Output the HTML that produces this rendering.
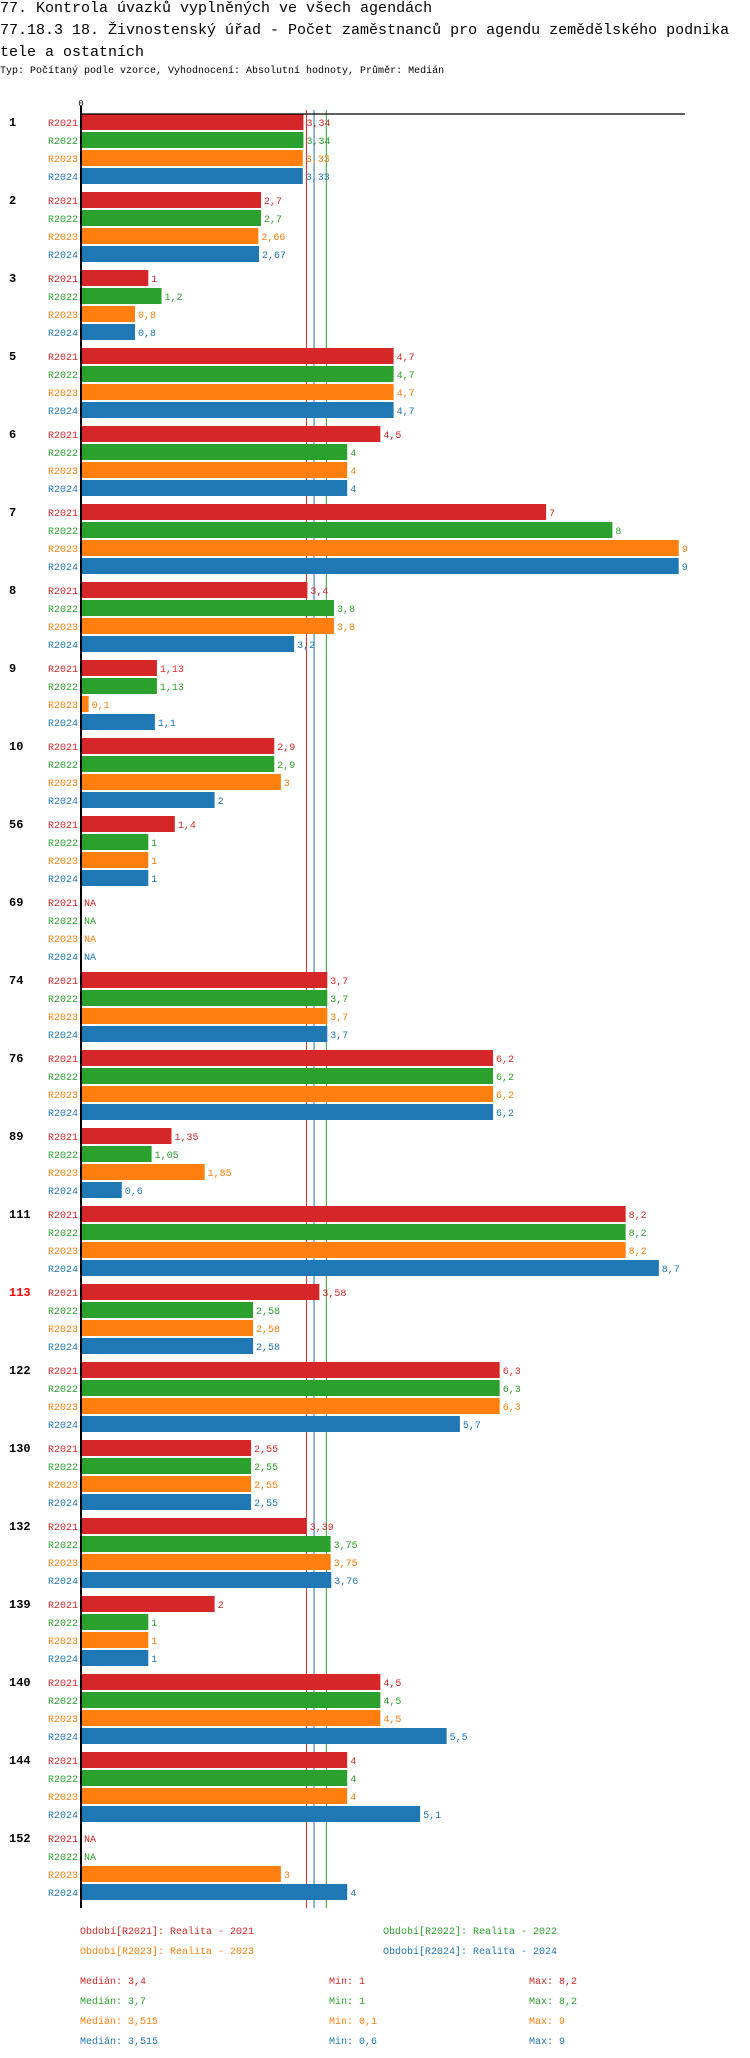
<!DOCTYPE html>
<html><head><meta charset="utf-8">
<style>
body{margin:0;background:#fff;width:750px;height:2058px;overflow:hidden;font-family:"Liberation Mono",monospace;}
.t{position:absolute;left:0;font-size:15px;color:#000;white-space:nowrap;}
.s{position:absolute;left:0;top:66px;font-size:10px;white-space:nowrap;}
svg{position:absolute;left:0;top:0;}
svg text{font-family:"Liberation Mono",monospace;}
</style></head><body>
<div class="t" style="top:0px">77. Kontrola úvazků vyplněných ve všech agendách</div>
<div class="t" style="top:22px">77.18.3 18. Živnostenský úřad - Počet zaměstnanců pro agendu zemědělského podnika</div>
<div class="t" style="top:44px">tele a ostatních</div>
<div class="s">Typ: Počítaný podle vzorce, Vyhodnocení: Absolutní hodnoty, Průměr: Medián</div>
<svg id="chart" width="750" height="2058"></svg>
<script>
const groups=["1","2","3","5","6","7","8","9","10","56","69","74","76","89","111","113","122","130","132","139","140","144","152"];
const series=["R2021","R2022","R2023","R2024"];
const r2021=[3.34,2.7,1,4.7,4.5,7,3.4,1.13,2.9,1.4,null,3.7,6.2,1.35,8.2,3.58,6.3,2.55,3.39,2,4.5,4,null];
const r2022=[3.34,2.7,1.2,4.7,4,8,3.8,1.13,2.9,1,null,3.7,6.2,1.05,8.2,2.58,6.3,2.55,3.75,1,4.5,4,null];
const r2023=[3.33,2.66,0.8,4.7,4,9,3.8,0.1,3,1,null,3.7,6.2,1.85,8.2,2.58,6.3,2.55,3.75,1,4.5,4,3];
const r2024=[3.33,2.67,0.8,4.7,4,9,3.2,1.1,2,1,null,3.7,6.2,0.6,8.7,2.58,5.7,2.55,3.76,1,5.5,5.1,4];
const medians=[3.4,3.7,3.515,3.515];
const mins=[1,1,0.1,0.6];
const maxs=[8.2,8.2,9,9];
const colors=["#d62728","#2ca02c","#ff7f0e","#1f77b4"];
const values=[r2021,r2022,r2023,r2024];
const svg=document.getElementById('chart');
const NS="http://www.w3.org/2000/svg";
const X0=82,K=66.3,Y0=114,BH=16,PITCH=18,GP=78;
const x=v=>X0+v*K;
const yb=(g,s)=>Y0+g*GP+s*PITCH;
const fmt=v=>String(v).replace('.',',');
function mk(tag,attrs){const e=document.createElementNS(NS,tag);for(const k in attrs)e.setAttribute(k,attrs[k]);svg.appendChild(e);return e;}
const bottom=Y0+groups.length*GP;
[[0,"#d62728"],[2,"#1f77b4"],[1,"#2ca02c"]].forEach(([i,c])=>{
  const l=mk('line',{x1:x(medians[i])-1,x2:x(medians[i])-1,y1:Y0-4,y2:bottom,stroke:c,'stroke-width':1});
  
  
});
groups.forEach((g,gi)=>{
  const gl=mk('text',{x:9,y:yb(gi,0)+12,'font-size':12,'font-weight':'bold',fill:g==="113"?"#ff0000":"#000"});
  gl.textContent=g;
  
  
  series.forEach((s,si)=>{
    const y=yb(gi,si);
    const v=values[si][gi];
    const sl=mk('text',{x:78,y:y+12,'font-size':10,fill:colors[si],'text-anchor':'end'});
    sl.textContent=s;
    
    
    if(v===null){
      const na=mk('text',{x:84,y:y+12,'font-size':10,fill:colors[si]});
      na.textContent="NA";
      
      
    }else{
      const r=mk('rect',{x:X0,y:y,width:v*K,height:BH,fill:colors[si]});
      
      
      const t=mk('text',{x:x(v)+3,y:y+12,'font-size':10,fill:colors[si]});
      t.textContent=fmt(v);
      
      
    }
  });
});
const ax=mk('line',{x1:81,x2:81,y1:Y0-8,y2:bottom,stroke:'#000','stroke-width':2});


const axh=mk('line',{x1:80,x2:685,y1:Y0,y2:Y0,stroke:'#000','stroke-width':1.2});


const z=mk('text',{x:81,y:Y0-8,'font-size':9,'text-anchor':'middle',fill:'#000'});
z.textContent="0";


const legPos=[[80,1934],[383,1934],[80,1954],[383,1954]];
series.forEach((s,i)=>{
  const t=mk('text',{x:legPos[i][0],y:legPos[i][1],'font-size':10,fill:colors[i]});
  t.textContent="Období["+s+"]: Realita - "+s.slice(1);
  
  
  const y=1984+i*20;
  const a=mk('text',{x:80,y:y,'font-size':10,fill:colors[i]});
  a.textContent="Medián: "+fmt(medians[i]);
  
  
  const b=mk('text',{x:329,y:y,'font-size':10,fill:colors[i]});
  b.textContent="Min: "+fmt(mins[i]);
  
  
  const c=mk('text',{x:529,y:y,'font-size':10,fill:colors[i]});
  c.textContent="Max: "+fmt(maxs[i]);
  
  
});
</script>
</body></html>
